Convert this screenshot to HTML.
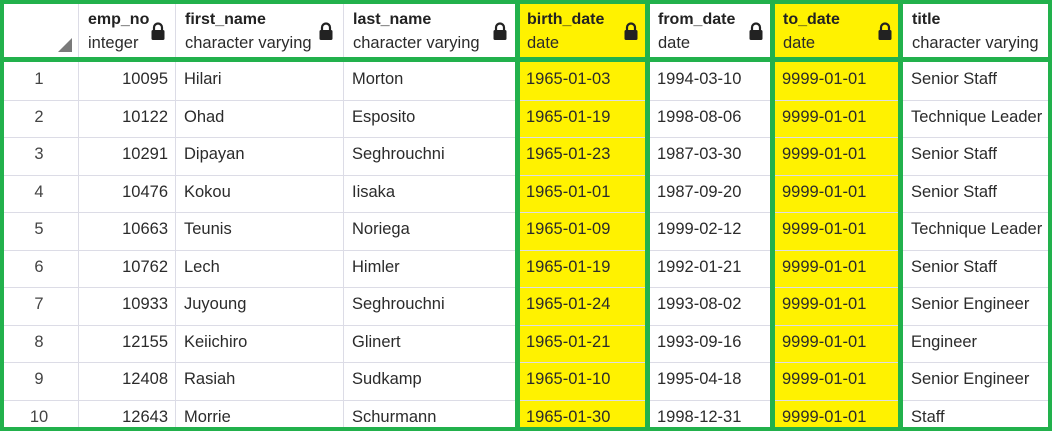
<!DOCTYPE html>
<html><head><meta charset="utf-8">
<style>
body{margin:0;width:1052px;height:431px;overflow:hidden;background:#fff;font-family:"Liberation Sans",Arial,sans-serif;position:relative}
.a{position:absolute}
.cell{position:absolute;font-size:16.5px;color:#2b2b2b;white-space:nowrap;line-height:20px}
.vl{position:absolute;width:1px;background:#dcdce6}
.hl{position:absolute;height:1px;background:#dcdce6}
.g{position:absolute;background:#22b14c}
.y{position:absolute;background:#fff200}
.hn{position:absolute;font-size:16px;font-weight:bold;color:#222;white-space:nowrap}
.ht{position:absolute;font-size:16.5px;color:#2b2b2b;white-space:nowrap}
.lock{position:absolute;width:16px;height:18px}
</style></head><body>
<div id="root"></div>
<script>
const cols=[{n:'',t:'',x:0,w:78},{n:'emp_no',t:'integer',x:78,w:97,r:true},{n:'first_name',t:'character varying',x:175,w:168},{n:'last_name',t:'character varying',x:343,w:174},{n:'birth_date',t:'date',x:517,w:131,yl:true},{n:'from_date',t:'date',x:648,w:125},{n:'to_date',t:'date',x:773,w:129,yl:true},{n:'title',t:'character varying',x:902,w:150}];
const empNo=[10095,10122,10291,10476,10663,10762,10933,12155,12408,12643];
const firstNames=['Hilari','Ohad','Dipayan','Kokou','Teunis','Lech','Juyoung','Keiichiro','Rasiah','Morrie'];
const lastNames=['Morton','Esposito','Seghrouchni','Iisaka','Noriega','Himler','Seghrouchni','Glinert','Sudkamp','Schurmann'];
const birthDates=['1965-01-03','1965-01-19','1965-01-23','1965-01-01','1965-01-09','1965-01-19','1965-01-24','1965-01-21','1965-01-10','1965-01-30'];
const fromDates=['1994-03-10','1998-08-06','1987-03-30','1987-09-20','1999-02-12','1992-01-21','1993-08-02','1993-09-16','1995-04-18','1998-12-31'];
const toDates=Array(10).fill('9999-01-01');
const titles=['Senior Staff','Technique Leader','Senior Staff','Senior Staff','Technique Leader','Senior Staff','Senior Engineer','Engineer','Senior Engineer','Staff'];
const root=document.getElementById('root');
function mk(cls,css,txt){const d=document.createElement('div');d.className=cls;d.style.cssText=css;if(txt!==undefined)d.textContent=txt;root.appendChild(d);return d;}
const rowTop=i=>62+i*37.5;
cols.forEach(c=>{if(c.yl){const y=mk('y',`left:${c.x}px;top:0;width:${c.w}px;height:431px`);

}});
for(let i=1;i<10;i++){const h=mk('hl',`left:0;top:${Math.round(rowTop(i))}px;width:1052px`);

}
cols.slice(1).forEach(c=>{const v=mk('vl',`left:${c.x}px;top:0;height:431px`);

});
cols.forEach((c,i)=>{
 if(i===0){const s=mk('a',`left:58px;top:38px;width:0;height:0;border-left:14px solid transparent;border-bottom:14px solid #7a7a7a`);
 
 return;}
 const n=mk('hn',`left:${c.x+10}px;top:11px`,c.n);
 
 
 const t=mk('ht',`left:${c.x+10}px;top:34px`,c.t);
 
 
 if(c.n!=='title'){const L=mk('lock',`left:${c.x+c.w-25}px;top:22px`);
 L.innerHTML='<svg width="16" height="18" viewBox="0 0 16 18"><path d="M4 8V5.5a4 4 0 0 1 8 0V8" fill="none" stroke="#222" stroke-width="2.2"/><rect x="1.5" y="8" width="13" height="10" rx="1.5" fill="#222"/></svg>';
 
 }
});
const data=[empNo,firstNames,lastNames,birthDates,fromDates,toDates,titles];
for(let r=0;r<10;r++){
 const ty=rowTop(r)+7;
 const idx=mk('cell',`left:0;width:78px;text-align:center;top:${ty}px;color:#444`,String(r+1));
 
 
 data.forEach((arr,k)=>{const c=cols[k+1];
  const css=c.r?`left:${c.x}px;width:${c.w-7}px;text-align:right;top:${ty}px`:`left:${c.x+9}px;top:${ty}px`;
  const d=mk('cell',css,String(arr[r]));
  
  });
}
function g(css,name){const e=mk('g',css);

}
g('left:0;top:0;width:1052px;height:4px','frame-top');
g('left:0;top:427px;width:1052px;height:4px','frame-bottom');
g('left:0;top:0;width:4px;height:431px','frame-left');
g('left:1048px;top:0;width:4px;height:431px','frame-right');
g('left:0;top:57px;width:1052px;height:5px','header-divider');
g('left:515px;top:0;width:5px;height:431px','birth-date-left');
g('left:645px;top:0;width:5px;height:431px','birth-date-right');
g('left:770px;top:0;width:5px;height:431px','to-date-left');
g('left:898px;top:0;width:5px;height:431px','to-date-right');
</script>
</body></html>
